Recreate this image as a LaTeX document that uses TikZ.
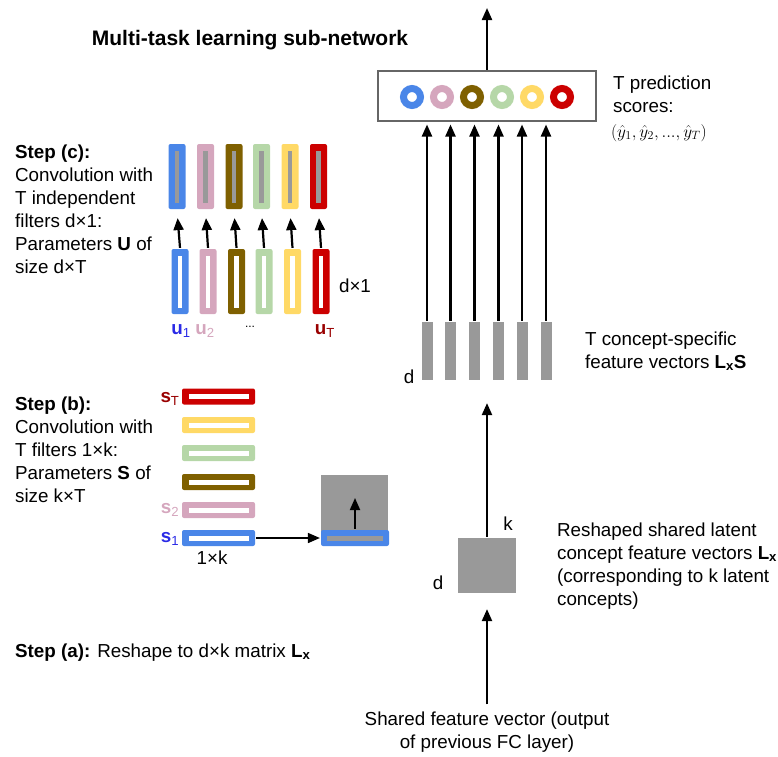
\documentclass[tikz,border=0pt]{standalone}
\usepackage{fontspec}
\setmainfont{Liberation Sans}
\usepackage{amsmath}
\usetikzlibrary{arrows.meta}

\definecolor{cblue}{HTML}{4A86E8}
\definecolor{cpink}{HTML}{D5A6BD}
\definecolor{cbrown}{HTML}{7F6000}
\definecolor{cgreen}{HTML}{B6D7A8}
\definecolor{cyellow}{HTML}{FFD966}
\definecolor{cred}{HTML}{CC0000}
\definecolor{cgray}{HTML}{999999}
\definecolor{boxgray}{HTML}{666666}
\definecolor{lblue}{HTML}{2A2AE6}
\definecolor{lred}{HTML}{990000}

\begin{document}
\begin{tikzpicture}[x=1pt, y=-1pt, >={Triangle[length=12pt,width=10pt]}, line width=2.2pt,
    font=\fontsize{18.8}{23}\selectfont,
    txt/.style={anchor=base west, inner sep=0pt, align=left},
    vfilt/.style={rectangle, rounded corners=2pt, inner sep=0pt, minimum width=17pt, minimum height=65pt},
    vbar/.style={rectangle, inner sep=0pt, minimum width=4.5pt, minimum height=52pt},
    hfilt/.style={rectangle, rounded corners=2pt, inner sep=0pt, minimum width=73pt, minimum height=16pt},
    hbar/.style={rectangle, inner sep=0pt, minimum width=60pt, minimum height=5pt},
    ring/.style={circle, line width=7pt, minimum size=17pt, inner sep=0pt},
    cbar/.style={rectangle, fill=cgray, inner sep=0pt, minimum width=11pt, minimum height=58pt},
    lab/.style={inner sep=0pt}]

    \useasboundingbox (0,0) rectangle (778,756);

    % title
    \node[anchor=base, font=\fontsize{21}{25}\selectfont\bfseries] (title) at (250,45) {Multi-task learning sub-network};

    % prediction scores
    \node[draw=boxgray, line width=2pt, minimum width=218pt, minimum height=50pt, inner sep=0pt] (pred) at (487,95.5) {};
    \node[ring, draw=cblue] (r1) at (412,97) {};
    \node[ring, draw=cpink] (r2) at (442,97) {};
    \node[ring, draw=cbrown] (r3) at (472,97) {};
    \node[ring, draw=cgreen] (r4) at (502,97) {};
    \node[ring, draw=cyellow] (r5) at (532,97) {};
    \node[ring, draw=cred] (r6) at (562,97) {};
    \coordinate (out) at (487,8);
    \node[txt] (predtxt) at (612,112) {T prediction\\scores:};
    \node[anchor=west, inner sep=0pt, font=\fontsize{17.28}{20}\selectfont] (yhat) at (610,133) {$(\hat{y}_1, \hat{y}_2, ..., \hat{y}_T)$};

    % concept-specific feature vectors
    \node[cbar] (b1) at (427,351) {};
    \node[cbar] (b2) at (450.5,351) {};
    \node[cbar] (b3) at (474.5,351) {};
    \node[cbar] (b4) at (498.5,351) {};
    \node[cbar] (b5) at (522,351) {};
    \node[cbar] (b6) at (546,351) {};
    \node[lab] (dbar) at (409,377) {d};
    \node[txt] (lstxt) at (584,368) {T concept-specific\\feature vectors \textbf{L}\textsubscript{\textbf{x}}\textbf{S}};

    % reshaped latent matrix
    \node[rectangle, fill=cgray, inner sep=0pt, minimum width=58pt, minimum height=55pt] (lx) at (487,565.5) {};
    \node[lab] (klab) at (508,524) {k};
    \node[lab] (dlab) at (438,583) {d};
    \node[txt] (lxtxt) at (556,605) {Reshaped shared latent\\concept feature vectors \textbf{L}\textsubscript{\textbf{x}}\\(corresponding to k latent\\concepts)};
    \node[anchor=base, align=center, inner sep=0pt] (shared) at (487,748) {Shared feature vector (output\\of previous FC layer)};

    % step (c)
    \node[txt] (stepc) at (14,273) {\textbf{Step (c):}\\Convolution with\\T independent\\filters d×1:\\Parameters \textbf{U} of\\size d×T};
    \node[vfilt, fill=cblue] (c1) at (177,176.5) {};
    \node[vfilt, fill=cpink] (c2) at (205.5,176.5) {};
    \node[vfilt, fill=cbrown] (c3) at (234,176.5) {};
    \node[vfilt, fill=cgreen] (c4) at (261.5,176.5) {};
    \node[vfilt, fill=cyellow] (c5) at (290,176.5) {};
    \node[vfilt, fill=cred] (c6) at (318.5,176.5) {};
    \node[vbar, fill=cgray] (c1i) at (c1) {};
    \node[vbar, fill=cgray] (c2i) at (c2) {};
    \node[vbar, fill=cgray] (c3i) at (c3) {};
    \node[vbar, fill=cgray] (c4i) at (c4) {};
    \node[vbar, fill=cgray] (c5i) at (c5) {};
    \node[vbar, fill=cgray] (c6i) at (c6) {};
    \node[vfilt, fill=cblue] (u1) at (180,281.5) {};
    \node[vfilt, fill=cpink] (u2) at (208,281.5) {};
    \node[vfilt, fill=cbrown] (u3) at (236.5,281.5) {};
    \node[vfilt, fill=cgreen] (u4) at (264,281.5) {};
    \node[vfilt, fill=cyellow] (u5) at (292.5,281.5) {};
    \node[vfilt, fill=cred] (u6) at (321,281.5) {};
    \node[vbar, fill=white] (u1i) at (u1) {};
    \node[vbar, fill=white] (u2i) at (u2) {};
    \node[vbar, fill=white] (u3i) at (u3) {};
    \node[vbar, fill=white] (u4i) at (u4) {};
    \node[vbar, fill=white] (u5i) at (u5) {};
    \node[vbar, fill=white] (u6i) at (u6) {};
    \node[lab] (d1lab) at (355,286) {d×1};
    \node[lab, text=lblue] (u1lab) at (181,331) {\textbf{u}\textsubscript{1}};
    \node[lab, text=cpink] (u2lab) at (205,331) {\textbf{u}\textsubscript{2}};
    \node[lab, font=\fontsize{12}{14}\selectfont] (dots) at (250,327) {...};
    \node[lab, text=lred] (uTlab) at (325,331) {\textbf{u}\textsubscript{T}};

    % step (b)
    \node[txt] (stepb) at (14,502) {\textbf{Step (b):}\\Convolution with\\T filters 1×k:\\Parameters \textbf{S} of\\size k×T};
    \node[hfilt, fill=cred] (sT) at (218.5,396.5) {};
    \node[hfilt, fill=cyellow] (s5) at (218.5,425) {};
    \node[hfilt, fill=cgreen] (s4) at (218.5,453) {};
    \node[hfilt, fill=cbrown] (s3) at (218.5,482) {};
    \node[hfilt, fill=cpink] (s2) at (218.5,510) {};
    \node[hfilt, fill=cblue] (s1) at (218.5,538) {};
    \node[hbar, fill=white] (sTi) at (sT) {};
    \node[hbar, fill=white] (s5i) at (s5) {};
    \node[hbar, fill=white] (s4i) at (s4) {};
    \node[hbar, fill=white] (s3i) at (s3) {};
    \node[hbar, fill=white] (s2i) at (s2) {};
    \node[hbar, fill=white] (s1i) at (s1) {};
    \node[lab, text=lred] (sTlab) at (170,399) {\textbf{s}\textsubscript{T}};
    \node[lab, text=cpink] (s2lab) at (170,510) {\textbf{s}\textsubscript{2}};
    \node[lab, text=lblue] (s1lab) at (170,539) {\textbf{s}\textsubscript{1}};
    \node[lab] (klab2) at (212,558) {1×k};
    \node[rectangle, fill=cgray, inner sep=0pt, minimum width=67pt, minimum height=57pt] (lxsq) at (354.5,503.5) {};
    \node[rectangle, rounded corners=2pt, fill=cblue, inner sep=0pt, minimum width=68pt, minimum height=16pt] (lxrow) at (355,538) {};
    \node[hbar, fill=cgray, minimum width=56pt] (lxrowi) at (lxrow) {};
    \coordinate (lxup) at (355,498);

    % step (a)
    \node[txt] (stepa) at (14,657) {\textbf{Step (a):} Reshape to d×k matrix \textbf{L}\textsubscript{\textbf{x}}};

    % lines
    \draw[->] (pred.north) -- (out);
    \draw[->, shorten >=3pt] (b1.north) -- (b1.north |- pred.south);
    \draw[->, shorten >=3pt] (b2.north) -- (b2.north |- pred.south);
    \draw[->, shorten >=3pt] (b3.north) -- (b3.north |- pred.south);
    \draw[->, shorten >=3pt] (b4.north) -- (b4.north |- pred.south);
    \draw[->, shorten >=3pt] (b5.north) -- (b5.north |- pred.south);
    \draw[->, shorten >=3pt] (b6.north) -- (b6.north |- pred.south);
    \draw[->, shorten >=22pt] (lx.north) -- (lx.north |- b3.south);
    \draw[->, shorten >=15pt, shorten <=6pt] (shared.north) -- (lx.south);
    \draw[->, shorten >=8pt] (u1.north) -- (c1.south);
    \draw[->, shorten >=8pt] (u2.north) -- (c2.south);
    \draw[->, shorten >=8pt] (u3.north) -- (c3.south);
    \draw[->, shorten >=8pt] (u4.north) -- (c4.south);
    \draw[->, shorten >=8pt] (u5.north) -- (c5.south);
    \draw[->, shorten >=8pt] (u6.north) -- (c6.south);
    \draw[->, line width=1.6pt] (s1.east) -- (lxrow.west);
    \draw[->, line width=1.8pt] (lxrow.north) -- (lxup);

\end{tikzpicture}
\end{document}
